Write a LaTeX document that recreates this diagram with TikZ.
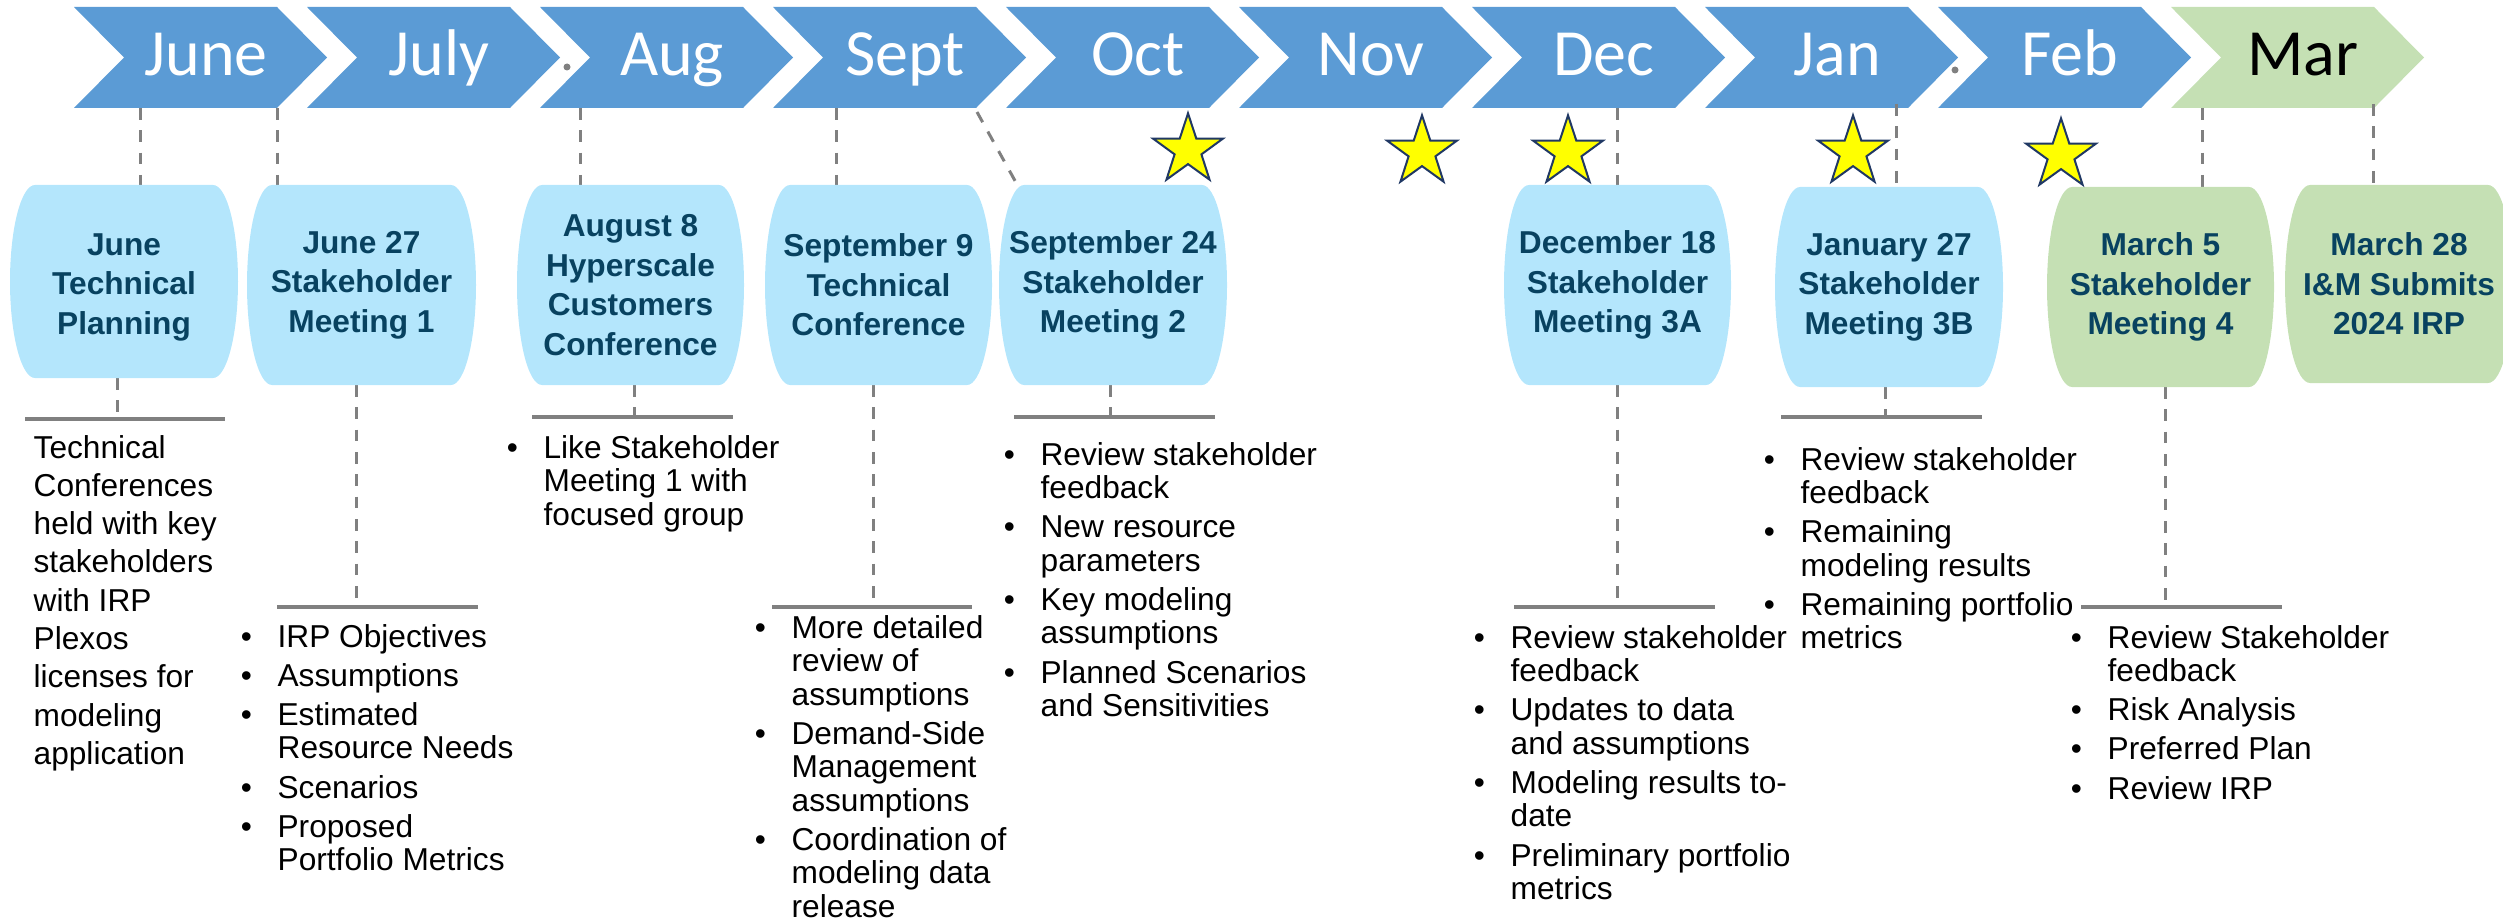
\documentclass[tikz,border=0pt]{standalone}
\usepackage{fontspec}
\setmainfont{Liberation Sans}
\newfontfamily\monthfont{Carlito}
\usetikzlibrary{shapes.geometric}
\definecolor{chevblue}{RGB}{91,155,213}
\definecolor{chevgreen}{RGB}{197,224,180}
\definecolor{boxblue}{RGB}{180,230,252}
\definecolor{boxgreen}{RGB}{197,224,180}
\definecolor{boxtext}{RGB}{8,66,96}
\definecolor{lngray}{RGB}{128,128,128}
\definecolor{staryellow}{RGB}{255,255,0}
\definecolor{starline}{RGB}{32,56,100}
\newcommand{\bul}{\makebox[11pt][l]{\textbullet}}
\newcommand{\ig}{\\[1.7pt]}
% barrel box: L T R B fill
\newcommand{\barrelbox}[5]{%
  \fill[#5] ({#1+25},#2) -- ({#3-25},#2)
   .. controls ({#3-11.2},#2) and (#3,{(#2+#4)/2-0.5523*(#4-#2)/2}) .. (#3,{(#2+#4)/2})
   .. controls (#3,{(#2+#4)/2+0.5523*(#4-#2)/2}) and ({#3-11.2},#4) .. ({#3-25},#4)
   -- ({#1+25},#4)
   .. controls ({#1+11.2},#4) and (#1,{(#2+#4)/2+0.5523*(#4-#2)/2}) .. (#1,{(#2+#4)/2})
   .. controls (#1,{(#2+#4)/2-0.5523*(#4-#2)/2}) and ({#1+11.2},#2) .. ({#1+25},#2) -- cycle;}
\tikzset{
  monthlbl/.style={font=\monthfont\fontsize{19.8}{24}\selectfont, text=white, anchor=base, inner sep=0pt},
  boxtxt/.style={font=\fontsize{9.5}{11.85}\selectfont\bfseries, text=boxtext, align=center, inner sep=0pt},
  dashln/.style={draw=lngray, line width=0.9pt, dash pattern=on 3.5pt off 3.2pt},
  barln/.style={draw=lngray, line width=1.05pt},
  listtxt/.style={font=\fontsize{9.5}{10.05}\selectfont, anchor=base west, inner sep=0pt},
  plaintxt/.style={font=\fontsize{9.5}{11.49}\selectfont, anchor=base west, inner sep=0pt},
  starsty/.style={star, star points=5, star point ratio=2.6, fill=staryellow, draw=starline, line width=0.6pt, minimum size=22pt, inner sep=0pt},
}
\begin{document}
\begin{tikzpicture}[x=0.3pt,y=-0.3pt]
\useasboundingbox (0,0) rectangle (2503,921);
% chevrons
\foreach \i/\m in {0/June,1/July,2/Aug,3/Sept,4/Oct,5/Nov,6/Dec,7/Jan,8/Feb} {
  \pgfmathsetmacro\L{74+233*\i}
  \fill[chevblue] (\L,7) -- ({\L+203},7) -- ({\L+253},57.5) -- ({\L+203},108) -- (\L,108) -- ({\L+50},57.5) -- cycle;
  \node[monthlbl] (m\i) at ({\L+132},76) {\m};
}
\fill[chevgreen] (2171,7) -- (2374,7) -- (2424,57.5) -- (2374,108) -- (2171,108) -- (2221,57.5) -- cycle;
\node[monthlbl, text=black] (m9) at (2303,76) {Mar};
% small dots
\fill[lngray] (567,67) circle (3.5);
\fill[lngray] (1955,70) circle (3.5);
% upper dashed connectors
\coordinate (u1a) at (140,108);  \coordinate (u1b) at (140,185);
\coordinate (u2a) at (277,108);  \coordinate (u2b) at (277,185);
\coordinate (u3a) at (580,108);  \coordinate (u3b) at (580,185);
\coordinate (u4a) at (836,108);  \coordinate (u4b) at (836,185);
\coordinate (u5a) at (977,112);  \coordinate (u5b) at (1019,188);
\coordinate (u6a) at (1617,108); \coordinate (u6b) at (1617,188);
\coordinate (u7a) at (1896,104); \coordinate (u7b) at (1896,187);
\coordinate (u8a) at (2202,108); \coordinate (u8b) at (2202,188);
\coordinate (u9a) at (2373,104); \coordinate (u9b) at (2373,185);
\foreach \k in {1,...,9} { \draw[dashln] (u\k a) -- (u\k b); }
% lower dashed connectors and bars
\foreach \k/\x/\ya/\yb/\bl/\br in {1/117/378/419/25/225, 2/356/385/607/277/478, 3/634/385/417/532/733,
    4/873/385/607/772/972, 5/1110/385/417/1014/1215, 6/1617/385/607/1514/1715,
    7/1885/387/417/1781/1982, 8/2165/387/607/2081/2282} {
  \coordinate (l\k a) at (\x,\ya);
  \coordinate (l\k b) at (\x,\yb);
  \coordinate (bar\k l) at (\bl,\yb);
  \coordinate (bar\k r) at (\br,\yb);
  \draw[dashln] (l\k a) -- (l\k b);
  \draw[barln] (bar\k l) -- (bar\k r);
}
% boxes
\barrelbox{10}{185}{238}{378}{boxblue}
\barrelbox{247}{185}{476}{385}{boxblue}
\barrelbox{517}{185}{744}{385}{boxblue}
\barrelbox{765}{185}{992}{385}{boxblue}
\barrelbox{999}{185}{1227}{385}{boxblue}
\barrelbox{1504}{185}{1731}{385}{boxblue}
\barrelbox{1775}{187}{2003}{387}{boxblue}
\barrelbox{2047}{187}{2274}{387}{boxgreen}
\begin{scope}
\clip (0,0) rectangle (2503,921);
\barrelbox{2285}{185}{2513}{383}{boxgreen}
\end{scope}
% box texts
\node[boxtxt] (b1) at (124,287) {June\\Technical\\Planning};
\node[boxtxt] (b2) at (361.5,285) {June 27\\Stakeholder\\Meeting 1};
\node[boxtxt] (b3) at (630.5,285) {August 8\\Hyperscale\\Customers\\Conference};
\node[boxtxt] (b4) at (878.5,285) {September 9\\Technical\\Conference};
\node[boxtxt] (b5) at (1113,285) {September 24\\Stakeholder\\Meeting 2};
\node[boxtxt] (b6) at (1617.5,285) {December 18\\Stakeholder\\Meeting 3A};
\node[boxtxt] (b7) at (1889,287) {January 27\\Stakeholder\\Meeting 3B};
\node[boxtxt] (b8) at (2160.5,287) {March 5\\Stakeholder\\Meeting 4};
\node[boxtxt] (b9) at (2399,284) {March 28\\I\&M Submits\\2024 IRP};
% stars
\node[starsty] (s1) at (1188,150) {};
\node[starsty] (s2) at (1422,152) {};
\node[starsty] (s3) at (1568,152) {};
\node[starsty] (s4) at (1853,152) {};
\node[starsty] (s5) at (2061,155) {};
% body texts
\node[plaintxt] (t1) at (33,458) {\begin{tabular}[t]{@{}l@{}}Technical\\Conferences\\held with key\\stakeholders\\with IRP\\Plexos\\licenses for\\modeling\\application\end{tabular}};
\node[listtxt] (t2) at (240.3,647) {\begin{tabular}[t]{@{}l@{}l@{}}\bul&IRP Objectives\ig\bul&Assumptions\ig\bul&Estimated\\&Resource Needs\ig\bul&Scenarios\ig\bul&Proposed\\&Portfolio Metrics\end{tabular}};
\node[listtxt] (t3) at (506.3,458) {\begin{tabular}[t]{@{}l@{}l@{}}\bul&Like Stakeholder\\&Meeting 1 with\\&focused group\end{tabular}};
\node[listtxt] (t4) at (754.3,638) {\begin{tabular}[t]{@{}l@{}l@{}}\bul&More detailed\\&review of\\&assumptions\ig\bul&Demand-Side\\&Management\\&assumptions\ig\bul&Coordination of\\&modeling data\\&release\end{tabular}};
\node[listtxt] (t5) at (1003.3,465) {\begin{tabular}[t]{@{}l@{}l@{}}\bul&Review stakeholder\\&feedback\ig\bul&New resource\\&parameters\ig\bul&Key modeling\\&assumptions\ig\bul&Planned Scenarios\\&and Sensitivities\end{tabular}};
\node[listtxt] (t6) at (1473.3,648) {\begin{tabular}[t]{@{}l@{}l@{}}\bul&Review stakeholder\\&feedback\ig\bul&Updates to data\\&and assumptions\ig\bul&Modeling results to-\\&date\ig\bul&Preliminary portfolio\\&metrics\end{tabular}};
\node[listtxt] (t7) at (1763.3,470) {\begin{tabular}[t]{@{}l@{}l@{}}\bul&Review stakeholder\\&feedback\ig\bul&Remaining\\&modeling results\ig\bul&Remaining portfolio\\&metrics\end{tabular}};
\node[listtxt] (t8) at (2070.3,648) {\begin{tabular}[t]{@{}l@{}l@{}}\bul&Review Stakeholder\\&feedback\ig\bul&Risk Analysis\ig\bul&Preferred Plan\ig\bul&Review IRP\end{tabular}};
\end{tikzpicture}
\end{document}
